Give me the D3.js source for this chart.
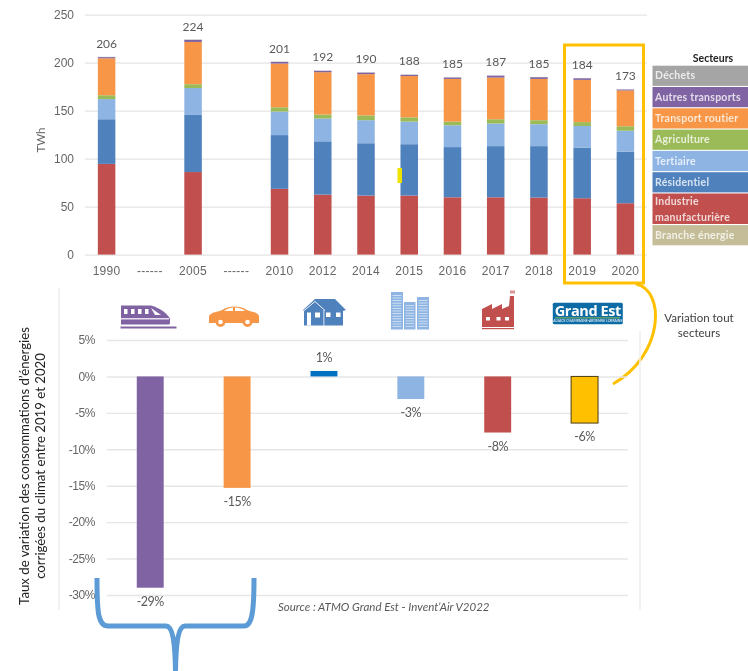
<!DOCTYPE html>
<html>
<head>
<meta charset="utf-8">
<script src="https://cdn.jsdelivr.net/npm/d3@7"></script>
<style>
  html, body { margin: 0; padding: 0; background: #fff; }
  svg { display: block; font-family: Lato, "Open Sans", sans-serif; }
  .tick text { fill: #666; }
</style>
</head>
<body>
<div id="chart"></div>
<script>
// Consumption per sector, TWh. Null = gap on the axis.
const yearLabels = ["1990", "------", "2005", "------", "2010", "2012", "2014", "2015", "2016", "2017", "2018", "2019", "2020"];
const totals = [206, null, 224, null, 201, 192, 190, 188, 185, 187, 185, 184, 173];
const industrie = [94.5, null, 86, null, 68.5, 62.5, 61.5, 61.5, 59.7, 59.7, 59.4, 58.7, 53.5];
const residentiel = [46.5, null, 59.5, null, 56, 55.5, 54.5, 53.5, 52.3, 53.3, 53.6, 52.8, 53.8];
const tertiaire = [21, null, 28, null, 24.5, 23.7, 24, 23.5, 22.7, 23.5, 22.8, 22.5, 21.7];
const agriculture = [4, null, 4, null, 4.5, 4.3, 5, 4.5, 3.8, 4.5, 4.2, 4, 4.7];
const transportRoutier = [38.5, null, 44, null, 45.5, 44, 43, 43, 44.5, 43.4, 43, 44, 37.3];
const autresTransports = [1.2, null, 2.2, null, 1.7, 1.4, 1.6, 1.3, 1.5, 2, 1.8, 1.7, 1];
const dechets = [0.3, null, 0.3, null, 0.3, 0.3, 0.2, 0.2, 0.2, 0.2, 0.2, 0.2, 0.2];
const yTicksTop = [0, 50, 100, 150, 200, 250];

// Variation 2019-2020, %
const variationValues = [-29, -15.3, 0.75, -3.1, -7.7, -6.4];
const yTicksBottom = [5, 0, -5, -10, -15, -20, -25, -30];

const sectorColors = ["#C0504D", "#4F81BD", "#8EB4E3", "#9BBB59", "#F79646", "#8064A2", "#A5A5A5"];
const variationColors = ["#8064A2", "#F79646", "#0070C0", "#8EB4E3", "#C0504D", "#FFC000"];
const legendLabels = ["Déchets", "Autres transports", "Transport routier", "Agriculture", "Tertiaire", "Résidentiel", "Industrie|manufacturière", "Branche énergie"];
const legendColors = ["#A5A5A5", "#8064A2", "#F79646", "#9BBB59", "#8EB4E3", "#4F81BD", "#C0504D", "#C4BD97"];

const svg = d3.select("#chart").append("svg").attr("width", 748).attr("height", 671);

// slight softening, the reference is a resized screenshot
svg.append("defs").append("filter").attr("id", "soft")
  .append("feGaussianBlur").attr("stdDeviation", 0.35);
const root = svg.append("g").attr("filter", "url(#soft)");

// --- top chart ---
const x = d3.scaleBand().domain(d3.range(yearLabels.length)).range([85, 647]).paddingInner(0.595).paddingOuter(0.297);
const y = d3.scaleLinear().domain([0, 250]).range([254.6, 14.6]);

const axisY = root.append("g").attr("transform", "translate(85,0)")
  .call(d3.axisLeft(y).tickValues(yTicksTop).tickSize(-562).tickPadding(11));
axisY.select(".domain").remove();
axisY.selectAll("line").attr("stroke", "#e4e4e4").attr("stroke-width", 1.2);
axisY.selectAll("text").attr("font-size", 12);

const axisX = root.append("g").attr("transform", "translate(0,263.5)")
  .call(d3.axisBottom(x).tickSize(0).tickPadding(3).tickFormat(i => yearLabels[i]));
axisX.select(".domain").remove();
axisX.selectAll("text").attr("font-size", 12).attr("letter-spacing", 0.3);

const seriesArrays = [industrie, residentiel, tertiaire, agriculture, transportRoutier, autresTransports, dechets];
const rows = yearLabels.map((_, i) => seriesArrays.map(s => s[i] || 0));
const stacked = d3.stack().keys(d3.range(seriesArrays.length))(rows);

root.append("g").selectAll("g").data(stacked).join("g")
  .attr("fill", (d, i) => sectorColors[i])
  .selectAll("rect").data(d => d).join("rect")
  .attr("x", (d, i) => x(i))
  .attr("y", d => y(d[1]))
  .attr("width", x.bandwidth())
  .attr("height", d => y(d[0]) - y(d[1]));

root.append("g").selectAll("text")
  .data(totals.map((v, i) => ({ v, i })).filter(d => d.v !== null))
  .join("text")
  .attr("x", d => x(d.i) + x.bandwidth() / 2)
  .attr("y", d => y(d.v) - 13)
  .attr("dy", "0.35em")
  .attr("text-anchor", "middle")
  .attr("font-size", 12)
  .attr("fill", "#595959")
  .text(d => d.v);

root.append("text").attr("transform", "translate(45,140) rotate(-90)")
  .attr("text-anchor", "middle").attr("font-size", 11.5).attr("fill", "#666").text("TWh");

// little yellow mark left over on the 2015 bar
root.append("rect").attr("x", 397.5).attr("y", 168).attr("width", 4.5).attr("height", 15).attr("fill", "#EFE300");

// legend
root.append("text").attr("x", 713).attr("y", 58).attr("dy", "0.35em").attr("text-anchor", "middle")
  .attr("font-size", 10.5).attr("font-weight", 700).attr("fill", "#222").text("Secteurs");
let legendY = 65.7;
legendLabels.forEach((label, i) => {
  const lines = label.split("|");
  const h = lines.length > 1 ? 30.5 : 20.2;
  root.append("rect").attr("x", 652.5).attr("y", legendY).attr("width", 96).attr("height", h).attr("fill", legendColors[i]);
  lines.forEach((t, j) => {
    root.append("text").attr("x", 655).attr("y", legendY + (lines.length > 1 ? 8 + j * 16 : h / 2)).attr("dy", "0.35em")
      .attr("font-size", 10.5).attr("font-weight", 700).attr("letter-spacing", 0.25)
      .attr("fill", "#fff").attr("fill-opacity", 0.78).text(t);
  });
  legendY += h + 1.1;
});

// highlight box and connector
root.append("rect").attr("x", 564.5).attr("y", 45).attr("width", 79).attr("height", 238)
  .attr("fill", "none").attr("stroke", "#FFC000").attr("stroke-width", 3);
root.append("path").attr("d", "M636,284 C665,290 665,354 613,384")
  .attr("fill", "none").attr("stroke", "#FFC000").attr("stroke-width", 3);
root.append("text").attr("x", 699).attr("y", 318).attr("dy", "0.35em").attr("text-anchor", "middle")
  .attr("font-size", 11.5).attr("fill", "#404040").text("Variation tout");
root.append("text").attr("x", 699).attr("y", 332.5).attr("dy", "0.35em").attr("text-anchor", "middle")
  .attr("font-size", 11.5).attr("fill", "#404040").text("secteurs");

// --- bottom chart ---
const x2 = d3.scaleBand().domain(d3.range(variationValues.length)).range([106.8, 628]).paddingInner(0.69).paddingOuter(0.345);
const y2 = d3.scaleLinear().domain([5, -30]).range([340, 595]);

// frame lines of the pasted chart
root.append("line").attr("x1", 59).attr("x2", 59).attr("y1", 288).attr("y2", 610).attr("stroke", "#eeeeee").attr("stroke-width", 1.5);
root.append("line").attr("x1", 640).attr("x2", 640).attr("y1", 331).attr("y2", 610).attr("stroke", "#eeeeee").attr("stroke-width", 1.5);

const axisY2 = root.append("g").attr("transform", "translate(106.8,0)")
  .call(d3.axisLeft(y2).tickValues(yTicksBottom).tickSize(-521).tickPadding(12).tickFormat(d => d + "%"));
axisY2.select(".domain").remove();
axisY2.selectAll("line").attr("stroke", "#e6e6e6").attr("stroke-width", 1.4);
axisY2.selectAll("text").attr("font-size", 12).attr("letter-spacing", -0.5);

root.append("g").selectAll("rect").data(variationValues).join("rect")
  .attr("x", (d, i) => x2(i))
  .attr("y", d => y2(Math.max(d, 0)))
  .attr("width", x2.bandwidth())
  .attr("height", d => Math.abs(y2(d) - y2(0)))
  .attr("fill", (d, i) => variationColors[i])
  .attr("stroke", (d, i) => i === 5 ? "#4a3d10" : "none");

root.append("g").selectAll("text").data(variationValues).join("text")
  .attr("x", (d, i) => x2(i) + x2.bandwidth() / 2)
  .attr("y", d => d > 0 ? y2(d) - 13 : y2(d) + 14)
  .attr("dy", "0.35em")
  .attr("text-anchor", "middle")
  .attr("font-size", 12.5)
  .attr("letter-spacing", -0.5)
  .attr("fill", "#595959")
  .text(d => Math.round(d) + "%");

const yTitle = root.append("g").attr("fill", "#222").attr("font-size", 13.2).attr("text-anchor", "middle");
yTitle.append("text").attr("transform", "translate(24,466) rotate(-90)").attr("dy", "0.35em")
  .text("Taux de variation des consommations d’énergies");
yTitle.append("text").attr("transform", "translate(40.5,466) rotate(-90)").attr("dy", "0.35em")
  .text("corrigées du climat entre 2019 et 2020");

root.append("text").attr("x", 278).attr("y", 607).attr("dy", "0.35em")
  .attr("font-size", 11.5).attr("font-style", "italic").attr("fill", "#595959")
  .text("Source : ATMO Grand Est - Invent’Air V2022");

// brace under the two transport bars
root.append("path")
  .attr("d", "M97,578 C97,612 98,626 108,626 L166,626 C172,626 175,640 175.5,671 C176,640 179,626 185,626 L244,626 C252,626 254,612 254,578")
  .attr("fill", "none").attr("stroke", "#5B9BD5").attr("stroke-width", 5);

// --- icons ---
const train = root.append("g").attr("fill", "#8064A2");
train.append("path").attr("d", "M121,305.5 L151,305.5 C160,308 168,314 170,319 L170,323 C170,324 169,324.5 168,324.5 L121,324.5 Z");
train.append("rect").attr("x", 120.5).attr("y", 326.5).attr("width", 56).attr("height", 2);
train.append("g").attr("fill", "#fff").selectAll("rect").data([124, 131, 138, 145]).join("rect")
  .attr("x", d => d).attr("y", 309).attr("width", 3.5).attr("height", 5);
train.append("rect").attr("x", 121).attr("y", 318).attr("width", 48).attr("height", 1.5).attr("fill", "#e6dff0");
train.append("path").attr("d", "M151,308 L161,315 L155,315 Z").attr("fill", "#fff");

const car = root.append("g").attr("fill", "#F79646");
car.append("path").attr("d", "M209,316 C211,312 218,312 222,310 C228,305.5 240,305 247,310 C251,312 258,312 259,316 L259,323 L209,323 Z");
car.append("g").selectAll("circle").data([220.5, 247.5]).join("circle")
  .attr("cx", d => d).attr("cy", 322).attr("r", 3.6).attr("fill", "#fff").attr("stroke", "#F79646").attr("stroke-width", 2.6);
car.append("path").attr("d", "M224,311 C228,308 232,307.5 233,307.5 L233,311 Z M235,307.5 C239,307.5 243,309 245,311 L235,311 Z").attr("fill", "#fff");

const house = root.append("g").attr("fill", "#4F81BD");
house.append("path").attr("d", "M303,310 L315,299 L335,299 L346,310 L343,311 L343,325.5 L304,325.5 L304,311 Z");
house.append("path").attr("d", "M303.5,311 L315,301.5 L325,310.5").attr("fill", "none").attr("stroke", "#fff").attr("stroke-width", 0.9);
house.append("g").attr("fill", "#fff").selectAll("rect").data([
  [307, 312.5, 4, 13], [315, 312.5, 5, 5], [326, 312.5, 4.5, 4.5], [336, 312.5, 4.5, 4.5], [323.5, 310, 0.8, 16]
]).join("rect").attr("x", d => d[0]).attr("y", d => d[1]).attr("width", d => d[2]).attr("height", d => d[3]);

const towers = root.append("g").attr("fill", "#8EB4E3");
[[391, 292, 12], [404, 302, 11.5], [417, 297, 12]].forEach(b => {
  towers.append("rect").attr("x", b[0]).attr("y", b[1]).attr("width", b[2]).attr("height", 329.5 - b[1]);
  d3.range(b[1] + 3, 328, 2.6).forEach(ly => {
    towers.append("rect").attr("x", b[0] + 1.5).attr("y", ly).attr("width", b[2] - 3).attr("height", 0.8).attr("fill", "#dce8f6");
  });
});

const factory = root.append("g").attr("fill", "#C0504D");
factory.append("path").attr("d", "M482,309 L492,304 L492,309 L502,304 L502,309 L509,306 L510,296 L514,296 L514,327 L482,327 Z");
factory.append("rect").attr("x", 482).attr("y", 328).attr("width", 32).attr("height", 1.2);
factory.append("rect").attr("x", 510).attr("y", 290.5).attr("width", 5).attr("height", 3).attr("fill", "#d99694");
factory.append("g").attr("fill", "#fff").selectAll("rect").data([486, 496.5, 505]).join("rect")
  .attr("x", d => d).attr("y", 317).attr("width", 4).attr("height", 3.5);

const logo = root.append("g");
logo.append("rect").attr("x", 552.8).attr("y", 302.7).attr("width", 70).attr("height", 21.5).attr("rx", 1.5).attr("fill", "#0F6CA6");
logo.append("text").attr("x", 587.8).attr("y", 316).attr("text-anchor", "middle").attr("font-family", "Open Sans")
  .attr("font-size", 14.5).attr("font-weight", 700).attr("letter-spacing", -0.4).attr("fill", "#fff").text("Grand Est");
logo.append("rect").attr("x", 555).attr("y", 317.5).attr("width", 65).attr("height", 0.8).attr("fill", "#a8c83c");
logo.append("text").attr("x", 587.8).attr("y", 322.4).attr("text-anchor", "middle")
  .attr("font-size", 3.4).attr("fill", "#fff").text("ALSACE CHAMPAGNE-ARDENNE LORRAINE");
</script>
</body>
</html>
